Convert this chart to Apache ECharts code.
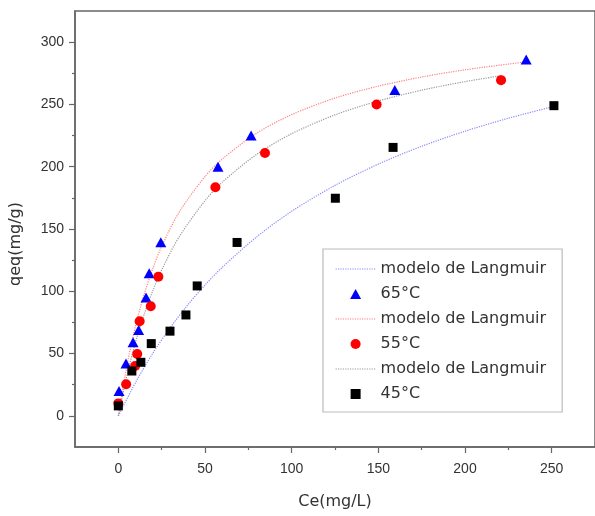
<!DOCTYPE html>
<html>
<head>
<meta charset="utf-8">
<script src="https://cdn.jsdelivr.net/npm/echarts@6/dist/echarts.min.js"></script>
<style>html,body{margin:0;padding:0;background:#fff;}#c{width:595px;height:516px;}</style>
</head>
<body>
<div id="c"></div>
<script>
const ce65 = [0.4, 4.4, 8.5, 11.7, 16.0, 17.8, 24.5, 57.5, 76.6, 159.5, 235.3];
const qe65 = [20, 42, 59, 69, 95, 114.5, 139.4, 200, 225, 261.5, 286];
const ce55 = [0.0, 4.5, 9.7, 10.9, 12.3, 18.7, 23.1, 56.0, 84.6, 149.0, 220.8];
const qe55 = [10, 25.4, 40, 49.7, 76, 88, 111.7, 183.5, 211, 250, 269.5];
const ce45 = [0.0, 7.8, 13.0, 19.0, 29.8, 39.0, 45.5, 68.5, 125.2, 158.5, 251.3];
const qe45 = [8, 36, 43, 58, 68, 81, 104.3, 139.2, 174.7, 215.5, 249];

// Langmuir model curves
const fitCe65 = [0, 5, 10, 15, 20, 25, 35, 50, 60, 80, 100, 125, 150, 175, 200, 235];
const fitQ65  = [0, 40.8, 72.6, 98.0, 118.8, 136.1, 163.3, 192.1, 206.2, 227.1, 241.8, 255.1, 264.7, 272.0, 277.8, 284.1];
const fitCe55 = [0, 5, 10, 15, 20, 25, 35, 50, 60, 80, 100, 125, 150, 175, 200, 221];
const fitQ55  = [0, 32.7, 59.5, 81.9, 100.8, 117.1, 143.5, 172.7, 187.6, 210.1, 226.5, 241.6, 252.8, 261.4, 268.3, 273.1];
const fitCe45 = [0, 10, 20, 30, 40, 50, 60, 80, 100, 125, 150, 175, 200, 225, 251];
const fitQ45  = [0, 27.0, 50.5, 70.9, 89.0, 105.0, 119.3, 143.9, 164.2, 185.0, 202.1, 216.4, 228.5, 238.9, 248.3];

// Axis ticks
const xMajor = [0, 50, 100, 150, 200, 250];
const xMinor = [25, 75, 125, 175, 225];
const yMajor = [0, 50, 100, 150, 200, 250, 300];
const yMinor = [25, 75, 125, 175, 225, 275];

const legendNames = ['fitBlue', '65°C', 'fitRed', '55°C', 'fitGray', '45°C'];
const modelLabel = 'modelo de Langmuir';

const pairs = (xs, ys) => xs.map((x, i) => [x, ys[i]]);

const axisColor = '#666';
const tickFont = { fontFamily: 'Liberation Sans, Arial, sans-serif', fontSize: 14, color: '#333' };
const nameFont = { fontFamily: 'DejaVu Sans, sans-serif', fontSize: 16, color: '#333' };
const cBlue = '#8888ff', cRed = '#ff8080', cGray = '#999999';

const chart = echarts.init(document.getElementById('c'), null, { renderer: 'canvas' });

function lineSeries(name, xs, ys, color) {
  return {
    name, type: 'line', xAxisIndex: 0, yAxisIndex: 0,
    data: pairs(xs, ys), symbol: 'none', smooth: 0.3, z: 1,
    lineStyle: { color, width: 1.2, type: 'dotted' },
    itemStyle: { color }, emphasis: { disabled: true }, animation: false
  };
}
function scatterSeries(name, xs, ys, color, symbol, size) {
  return {
    name, type: 'scatter', xAxisIndex: 0, yAxisIndex: 0,
    data: pairs(xs, ys), symbol, symbolSize: size, z: 3,
    itemStyle: { color, opacity: 1 }, emphasis: { disabled: true }, animation: false
  };
}
function tickAxis(dim, min, max, values, len) {
  return {
    type: 'value', min, max, gridIndex: 0, position: dim === 'x' ? 'bottom' : 'left',
    axisLine: { show: false, onZero: false },
    axisTick: { show: true, length: len, customValues: values, lineStyle: { color: axisColor, width: 1.2 } },
    axisLabel: { show: false }, splitLine: { show: false }
  };
}
const lineLegend = (name, color) => ({
  name, itemStyle: { opacity: 0, color: 'rgba(0,0,0,0)' },
  lineStyle: { color, type: 'dotted', width: 1.2 }
});

chart.setOption({
  animation: false,
  backgroundColor: '#fff',
  grid: { left: 73, right: -4, top: 11, bottom: 69, show: true, borderColor: axisColor, borderWidth: 1.5, backgroundColor: 'transparent' },
  legend: {
    data: [
      lineLegend(legendNames[0], cBlue),
      { name: legendNames[1], icon: 'path://M0,10 L5.5,0 L11,10 Z' },
      lineLegend(legendNames[2], cRed),
      { name: legendNames[3], icon: 'path://M0,5 A5,5 0 1,0 10,5 A5,5 0 1,0 0,5 Z' },
      lineLegend(legendNames[4], cGray),
      { name: legendNames[5], icon: 'path://M0,0 L9,0 L9,9 L0,9 Z' }
    ],
    orient: 'vertical', left: 323, top: 249,
    padding: [11, 16, 9, 12], itemWidth: 40, itemHeight: 10, itemGap: 7,
    symbolKeepAspect: true,
    borderColor: '#bbb', borderWidth: 1.2, backgroundColor: '#fff',
    textStyle: { fontFamily: 'DejaVu Sans, sans-serif', fontSize: 16, lineHeight: 18, color: '#333' },
    formatter: n => n.indexOf('fit') === 0 ? modelLabel : n,
    selectedMode: false
  },
  xAxis: [
    {
      type: 'value', min: -25, max: 275, gridIndex: 0, position: 'bottom',
      name: 'Ce(mg/L)', nameLocation: 'middle', nameGap: 47, nameTextStyle: nameFont,
      axisLine: { show: true, onZero: false, lineStyle: { color: axisColor, width: 1.5 } },
      axisTick: { show: false },
      axisLabel: { customValues: xMajor, margin: 15, ...tickFont },
      splitLine: { show: false }
    },
    tickAxis('x', -25, 275, xMajor, 6),
    tickAxis('x', -25, 275, xMinor, 3)
  ],
  yAxis: [
    {
      type: 'value', min: -25, max: 325, gridIndex: 0, position: 'left',
      name: 'qeq(mg/g)', nameLocation: 'middle', nameGap: 51,
      nameTextStyle: { ...nameFont, padding: [0, 30, 0, 0] },
      axisLine: { show: true, onZero: false, lineStyle: { color: axisColor, width: 1.5 } },
      axisTick: { show: false },
      axisLabel: { customValues: yMajor, margin: 11, ...tickFont },
      splitLine: { show: false }
    },
    tickAxis('y', -25, 325, yMajor, 6),
    tickAxis('y', -25, 325, yMinor, 3)
  ],
  series: [
    lineSeries('fitBlue', fitCe45, fitQ45, cBlue),
    scatterSeries('65°C', ce65, qe65, '#0000ff', 'triangle', [11, 10]),
    lineSeries('fitRed', fitCe65, fitQ65, cRed),
    scatterSeries('55°C', ce55, qe55, '#ff0000', 'circle', 10),
    lineSeries('fitGray', fitCe55, fitQ55, cGray),
    scatterSeries('45°C', ce45, qe45, '#000000', 'rect', 9)
  ]
});
</script>
</body>
</html>
